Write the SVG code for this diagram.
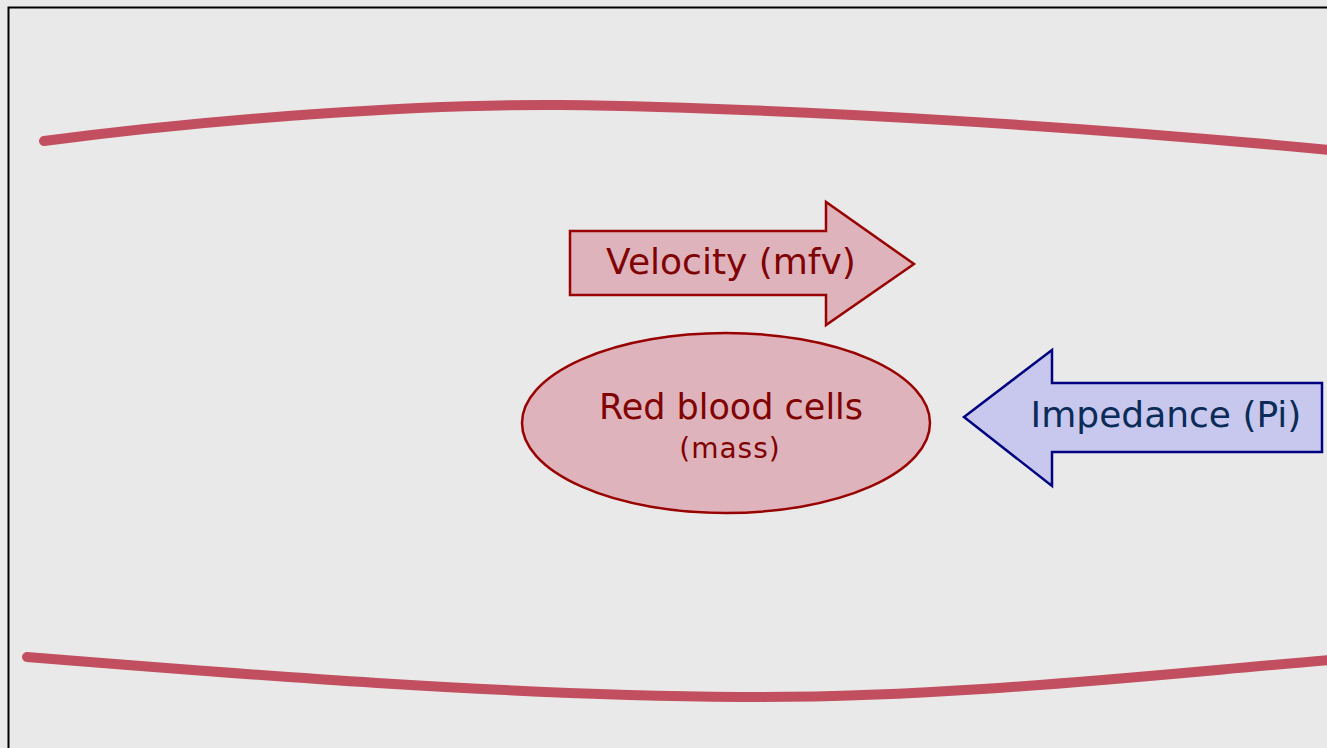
<svg xmlns="http://www.w3.org/2000/svg" width="1327" height="748" viewBox="0 0 1327 748">
  <style>
    .vessel { fill: none; stroke: #c24f5f; stroke-width: 10; stroke-linecap: round; }
    .red { fill: #dfb3bb; stroke: #990000; stroke-width: 2.5; }
    .blue { fill: #c8c8ee; stroke: #000080; stroke-width: 2.5; }
    .lbl { font-family: "DejaVu Sans", Verdana, sans-serif; text-anchor: middle; }
    .lbl-red { fill: #800000; }
    .lbl-blue { fill: #0b2c58; }
  </style>
  <rect x="0" y="0" width="1327" height="748" fill="#e9e9e9"/>
  <rect x="8.5" y="7.5" width="1330" height="750" fill="none" stroke="#000" stroke-width="2"/>

  <g id="vessel-walls">
    <path class="vessel" d="M44,141 C220,118 420,104 560,105 C800,108 1100,128 1330,150"/>
    <path class="vessel" d="M27,657 C250,675 500,695 740,697 C950,698 1150,675 1330,660"/>
  </g>

  <g id="velocity">
    <path class="red" d="M570,231 H826 V202 L914,264 L826,325 V295 H570 Z"/>
    <text class="lbl lbl-red" x="731" y="274" font-size="36">Velocity (mfv)</text>
  </g>

  <g id="red-blood-cells">
    <ellipse class="red" cx="726" cy="423" rx="204" ry="90"/>
    <text class="lbl lbl-red" x="731" y="419" font-size="35">Red blood cells</text>
    <text class="lbl lbl-red" x="730" y="458" font-size="28" letter-spacing="1">(mass)</text>
  </g>

  <g id="impedance">
    <path class="blue" d="M1322,383 H1052 V350 L964,417 L1052,486 V452 H1322 Z"/>
    <text class="lbl lbl-blue" x="1166" y="427" font-size="36">Impedance (Pi)</text>
  </g>
</svg>
